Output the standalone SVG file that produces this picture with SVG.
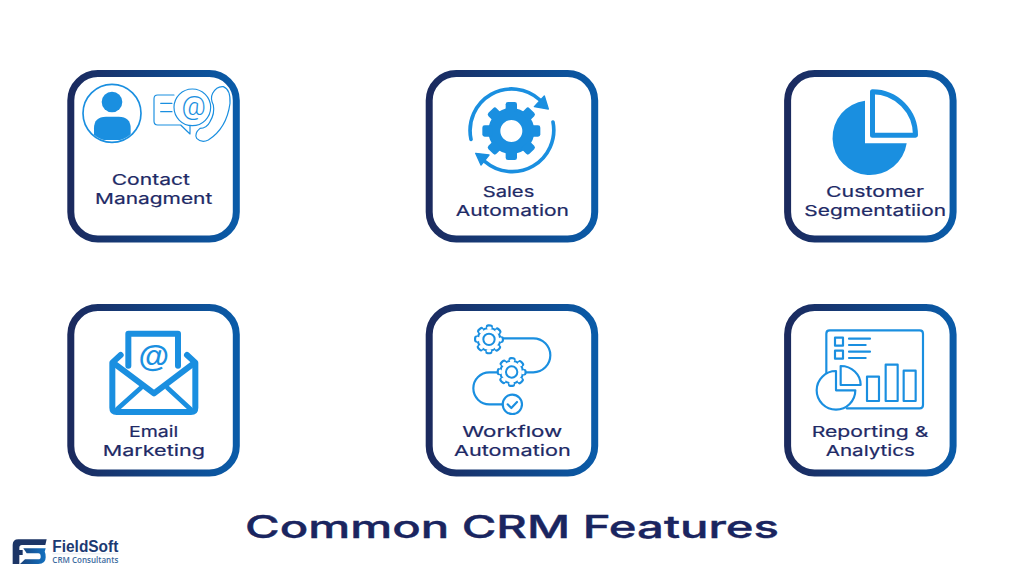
<svg xmlns="http://www.w3.org/2000/svg" xmlns:xlink="http://www.w3.org/1999/xlink" width="1024" height="576" viewBox="0 0 1024 576">
<style>
.card{fill:#fff;stroke:url(#cardGrad);stroke-width:7}
.lbl{font-family:Inter,"Liberation Sans",sans-serif;font-weight:400;font-size:15px;fill:#1e2a66;stroke:#1e2a66;stroke-width:.2}
.title{font-family:Inter,"Liberation Sans",sans-serif;font-weight:500;font-size:31px;fill:#1a2560;stroke:#1a2560;stroke-width:.4}
.b{fill:#1a8fe0}
.o{fill:none;stroke:#1a8fe0;stroke-linecap:round;stroke-linejoin:round}
</style>
<defs>
<linearGradient id="cardGrad" x1="0" y1="0" x2="1" y2="0"><stop offset="0" stop-color="#1b2a5e"/><stop offset="1" stop-color="#0a5ba8"/></linearGradient>
<linearGradient id="logoGrad" gradientUnits="userSpaceOnUse" x1="12" y1="0" x2="47" y2="0"><stop offset="0" stop-color="#1c3566"/><stop offset="1" stop-color="#1273c4"/></linearGradient>
<clipPath id="avatarClip"><circle cx="156" cy="160" r="84"/></clipPath>
<g id="gearOutline">
<circle r="37" fill="#1a8fe0"/>
<circle r="38" fill="none" stroke="#1a8fe0" stroke-width="14" stroke-linecap="round" stroke-dasharray="8 21.85" stroke-dashoffset="4"/>
<circle r="31" fill="#fff"/>
<circle r="34" fill="none" stroke="#fff" stroke-width="9" stroke-linecap="round" stroke-dasharray="5 21.7" stroke-dashoffset="2.5"/>
<circle r="17" fill="#fff" stroke="#1a8fe0" stroke-width="6"/>
</g>
<rect id="tooth" x="-17" y="-87" width="34" height="30" rx="7" fill="#1a8fe0"/>
</defs>
<rect width="1024" height="576" fill="#fff"/>

<g id="connectors"></g>

<g id="node-contact">
<rect class="card" x="70.8" y="73.5" width="165.5" height="165.5" rx="27"/>
<g transform="translate(60,60) scale(.33333)">
<circle cx="156" cy="160" r="87" fill="none" stroke="#1a8fe0" stroke-width="5"/>
<circle class="b" cx="156" cy="126" r="31"/>
<path class="b" clip-path="url(#avatarClip)" d="M102,240 V205 Q102,170 138,170 H176 Q212,170 212,205 V240 Z"/>
<path class="o" stroke-width="3.5" d="M342,105 H293 Q282,105 282,116 V184 Q282,195 293,195 H362 L390,222 V196"/>
<path class="o" stroke-width="3.5" d="M302,130 H336 M302,155 H336"/>
<circle class="o" stroke-width="3.5" cx="397" cy="142" r="55"/>
<text x="401" y="166" text-anchor="middle" font-family="Roboto,'Liberation Sans',sans-serif" font-weight="300" font-size="80" fill="#1a8fe0">@</text>
<path class="o" stroke-width="3.5" d="M458,100 Q470,78 490,80 Q512,88 510,130 Q500,205 445,240 Q425,250 410,235 Q402,220 420,205 Q440,205 450,185 Q465,160 460,135 Q450,115 458,100 Z"/>
</g>
<text class="lbl" x="111.7" y="184.7" textLength="78.3" lengthAdjust="spacingAndGlyphs">Contact</text>
<text class="lbl" x="95" y="204" textLength="117.3" lengthAdjust="spacingAndGlyphs">Managment</text>
</g>

<g id="node-sales">
<rect class="card" x="429.2" y="73.5" width="165.5" height="165.5" rx="27"/>
<g transform="translate(420,60) scale(.33333)">
<circle cx="274" cy="213" r="51" fill="none" stroke="#1a8fe0" stroke-width="36"/>
<g transform="translate(274,213)">
<use href="#tooth" xlink:href="#tooth"/>
<use href="#tooth" xlink:href="#tooth" transform="rotate(45)"/>
<use href="#tooth" xlink:href="#tooth" transform="rotate(90)"/>
<use href="#tooth" xlink:href="#tooth" transform="rotate(135)"/>
<use href="#tooth" xlink:href="#tooth" transform="rotate(180)"/>
<use href="#tooth" xlink:href="#tooth" transform="rotate(225)"/>
<use href="#tooth" xlink:href="#tooth" transform="rotate(270)"/>
<use href="#tooth" xlink:href="#tooth" transform="rotate(315)"/>
</g>
<path class="o" stroke-width="11" d="M153,238 A125,125 0 0 1 360,120"/>
<path class="b" d="M373,108 L385,147 L343,140 Z" stroke="#1a8fe0" stroke-width="4" stroke-linejoin="round"/>
<path class="o" stroke-width="11" d="M399,186 A125,125 0 0 1 195,305"/>
<path class="b" d="M167,280 L207,285 L183,315 Z" stroke="#1a8fe0" stroke-width="4" stroke-linejoin="round"/>
</g>
<text class="lbl" x="482.7" y="196.7" textLength="51.6" lengthAdjust="spacingAndGlyphs">Sales</text>
<text class="lbl" x="455.7" y="215.7" textLength="113.3" lengthAdjust="spacingAndGlyphs">Automation</text>
</g>

<g id="node-segmentation">
<rect class="card" x="787.6" y="73.5" width="165.5" height="165.5" rx="27"/>
<path class="b" d="M865,100.7 V143.3 H906.7 A37.3,37.3 0 1 1 865,100.7 Z"/>
<path fill="none" stroke="#1a8fe0" stroke-width="5" stroke-linejoin="round" d="M872.5,91.7 V135.3 H915.5 A43,43.5 0 0 0 872.5,91.7 Z"/>
<text class="lbl" x="826" y="196.7" textLength="98" lengthAdjust="spacingAndGlyphs">Customer</text>
<text class="lbl" x="804.3" y="215.7" textLength="141.7" lengthAdjust="spacingAndGlyphs">Segmentatiion</text>
</g>

<g id="node-email">
<rect class="card" x="70.8" y="307.5" width="165.5" height="165.5" rx="27"/>
<g transform="translate(60,295) scale(.33333)">
<path class="o" stroke-width="18" stroke-linejoin="round" d="M205,212 V116 H354 V212"/>
<path class="o" stroke-width="18" d="M182,180 L157,203 V338 Q157,351 170,351 H393 Q406,351 406,338 V203 L381,180"/>
<path class="o" stroke-width="18" d="M162,205 L282,295 L401,205"/>
<path class="o" stroke-width="14" d="M172,342 L243,278 M391,342 L322,278"/>
<text x="281" y="216" text-anchor="middle" font-family="'Liberation Sans',sans-serif" font-weight="700" font-size="94" fill="#1a8fe0">@</text>
</g>
<text class="lbl" x="129" y="437.3" textLength="49.3" lengthAdjust="spacingAndGlyphs">Email</text>
<text class="lbl" x="102.7" y="456.3" textLength="102.3" lengthAdjust="spacingAndGlyphs">Marketing</text>
</g>

<g id="node-workflow">
<rect class="card" x="429.2" y="307.5" width="165.5" height="165.5" rx="27"/>
<g transform="translate(420,295) scale(.33333)">
<path class="o" stroke-width="6.5" d="M250,130 H340 A51,51 0 0 1 340,232 H315 M233,232 H208 A48,48 0 0 0 208,328 H248"/>
<use href="#gearOutline" xlink:href="#gearOutline" transform="translate(207,133)"/>
<use href="#gearOutline" xlink:href="#gearOutline" transform="translate(275,231)"/>
<circle class="o" stroke-width="6.5" cx="277" cy="328" r="29"/>
<path class="o" stroke-width="6.5" d="M263,328 L274,339 L291,321"/>
</g>
<text class="lbl" x="462.3" y="437" textLength="100" lengthAdjust="spacingAndGlyphs">Workflow</text>
<text class="lbl" x="454" y="456" textLength="116.7" lengthAdjust="spacingAndGlyphs">Automation</text>
</g>

<g id="node-reporting">
<rect class="card" x="787.6" y="307.5" width="165.5" height="165.5" rx="27"/>
<g transform="translate(775,295) scale(.33333)">
<path class="o" stroke-width="6.5" d="M154,235 V116 Q154,106 164,106 H434 Q444,106 444,116 V330 Q444,340 434,340 H215"/>
<rect class="o" stroke-width="6.5" x="180" y="128" width="24" height="24"/>
<rect class="o" stroke-width="6.5" x="180" y="167" width="24" height="24"/>
<path class="o" stroke-width="6.5" d="M222,131 H285 M222,150 H272 M222,170 H285 M222,189 H272"/>
<rect class="o" stroke-width="6.5" x="276" y="245" width="36" height="73"/>
<rect class="o" stroke-width="6.5" x="332" y="209" width="36" height="109"/>
<rect class="o" stroke-width="6.5" x="386" y="227" width="36" height="91"/>
<path fill="#fff" stroke="#1a8fe0" stroke-width="6.5" stroke-linejoin="round" d="M183,228 A58,58 0 1 0 241,286 H183 Z"/>
<path fill="#fff" stroke="#1a8fe0" stroke-width="6.5" stroke-linejoin="round" d="M197,213 V270 H257 A60,57 0 0 0 197,213 Z"/>
</g>
<text class="lbl" x="811.7" y="436.7" textLength="116.6" lengthAdjust="spacingAndGlyphs">Reporting &amp;</text>
<text class="lbl" x="825.7" y="456" textLength="89.3" lengthAdjust="spacingAndGlyphs">Analytics</text>
</g>

<g id="title">
<text class="title" x="245" y="538" textLength="534" lengthAdjust="spacingAndGlyphs">Common CRM Features</text>
</g>

<g id="logo">
<g transform="translate(0,500) scale(.33333)">
<path fill="#1c3566" d="M38,192 V135 Q38,118 55,118 H140 L136,135 H66 Q58,135 58,143 V150 H68 V165 H58 V192 Z"/>
<path fill="url(#logoGrad)" transform="scale(3)" d="M20,64 L25,59.3 H38.3 Q40.7,59.3 40.7,56.7 Q40.7,53.3 38.3,53.3 H26.7 L23.3,48.3 H45.7 L44.7,51.7 Q45.7,53.3 45.7,57.3 Q45.7,64 38.3,64 Z"/>
</g>
<text x="52.3" y="551.7" textLength="66" lengthAdjust="spacingAndGlyphs" font-family="'Liberation Sans',sans-serif" font-weight="700" font-size="16" fill="#1c3a73">FieldSoft</text>
<path d="M52.3,553.9 H118.3" stroke="#d5dde8" stroke-width=".6"/>
<text x="52.3" y="563.3" textLength="66" lengthAdjust="spacingAndGlyphs" font-family="'Open Sans','Liberation Sans',sans-serif" font-weight="600" font-size="8.5" fill="#3b6a9e">CRM Consultants</text>
</g>
</svg>
